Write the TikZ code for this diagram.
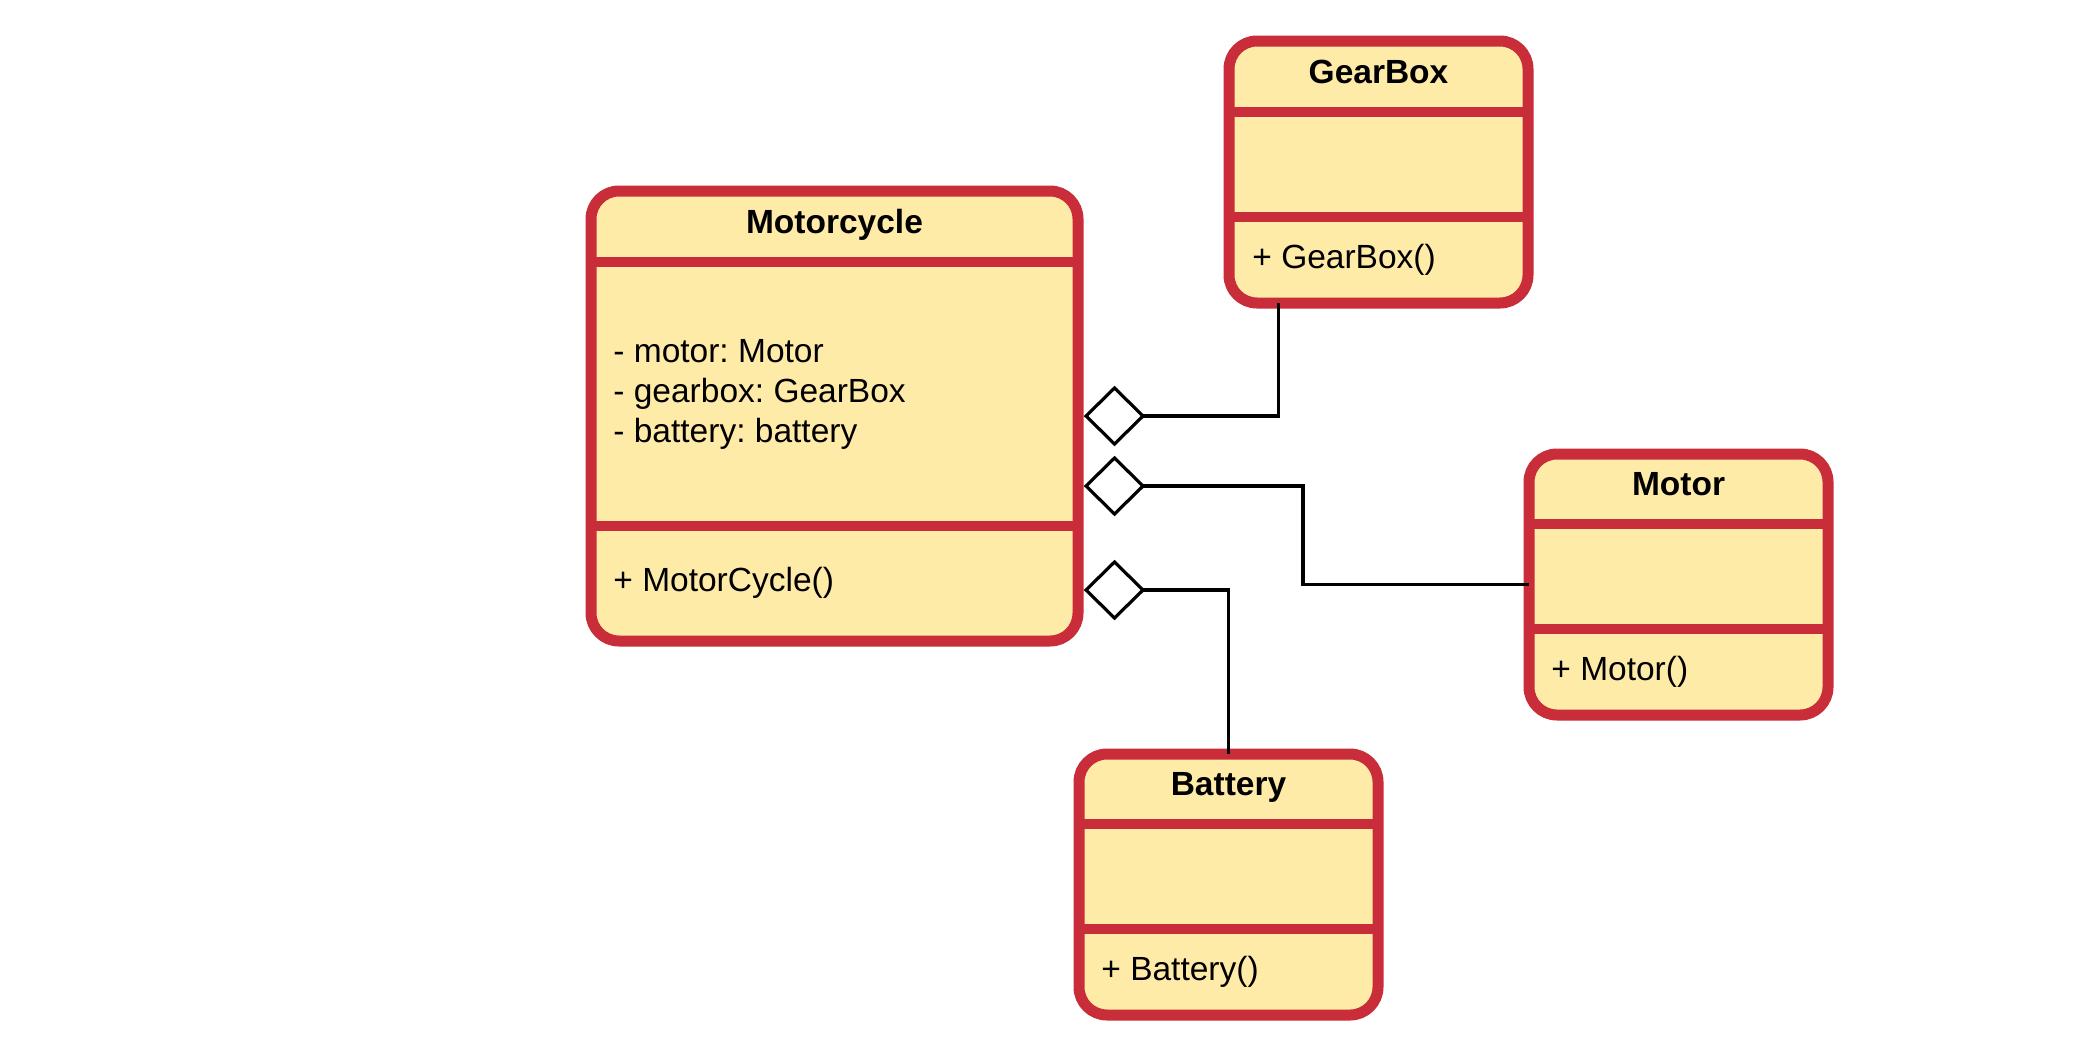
\documentclass[tikz,border=0pt]{standalone}
\usepackage{fontspec}
\setmainfont{Liberation Sans}
\frenchspacing
\usetikzlibrary{shapes.geometric}
\definecolor{umlred}{RGB}{201,45,57}
\definecolor{umlfill}{RGB}{255,235,168}
\tikzset{
  classbox/.style={draw=umlred, fill=umlfill, line width=5.5pt, rounded corners=14pt, inner sep=0pt, outer sep=0pt},
  divider/.style={draw=umlred, line width=5pt},
  titletext/.style={font=\fontsize{16.75}{20}\selectfont\bfseries\frenchspacing, anchor=base, inner sep=0pt},
  bodytext/.style={font=\fontsize{16.75}{20}\selectfont\frenchspacing, anchor=base west, inner sep=0pt},
  agg/.style={diamond, draw=black, fill=white, line width=1.6pt, minimum width=28.5pt, minimum height=28pt, inner sep=0pt, outer sep=0pt},
  conn/.style={draw=black, line width=1.6pt}
}
\begin{document}
\begin{tikzpicture}[x=0.5pt, y=-0.5pt]
\useasboundingbox[fill=white] (0,0) rectangle (2091,1050);

% Motorcycle
\node[classbox, minimum width=243.5pt, minimum height=225pt] (mc) at (834.5,416) {};
\draw[divider] ([yshift=-35.5pt]mc.north west) -- ([yshift=-35.5pt]mc.north east);
\draw[divider] ([yshift=-167.5pt]mc.north west) -- ([yshift=-167.5pt]mc.north east);
\node[titletext] (mct) at (834.5,233) {Motorcycle};
\node[bodytext] (mca1) at (613,362) {- motor: Motor};
\node[bodytext] (mca2) at (613,402) {- gearbox: GearBox};
\node[bodytext] (mca3) at (613,442) {- battery: battery};
\node[bodytext] (mcm) at (613,591) {+ MotorCycle()};

% GearBox
\node[classbox, minimum width=149.5pt, minimum height=131pt] (gb) at (1378.5,172) {};
\draw[divider] ([yshift=-35.5pt]gb.north west) -- ([yshift=-35.5pt]gb.north east);
\draw[divider] ([yshift=-88pt]gb.north west) -- ([yshift=-88pt]gb.north east);
\node[titletext] (gbt) at (1378.5,83) {GearBox};
\node[bodytext] (gbm) at (1252,268) {+ GearBox()};

% Motor
\node[classbox, minimum width=149.5pt, minimum height=130.5pt] (mt) at (1678.5,584.5) {};
\draw[divider] ([yshift=-35pt]mt.north west) -- ([yshift=-35pt]mt.north east);
\draw[divider] ([yshift=-87.5pt]mt.north west) -- ([yshift=-87.5pt]mt.north east);
\node[titletext] (mtt) at (1678.5,495) {Motor};
\node[bodytext] (mtm) at (1551,680) {+ Motor()};

% Battery
\node[classbox, minimum width=149.5pt, minimum height=130.5pt] (bt) at (1228.5,884.5) {};
\draw[divider] ([yshift=-35pt]bt.north west) -- ([yshift=-35pt]bt.north east);
\draw[divider] ([yshift=-87.5pt]bt.north west) -- ([yshift=-87.5pt]bt.north east);
\node[titletext] (btt) at (1228.5,795) {Battery};
\node[bodytext] (btm) at (1101,980) {+ Battery()};

% Aggregation diamonds
\node[agg] (d1) at (1114.5,416) {};
\node[agg] (d2) at (1114.5,486) {};
\node[agg] (d3) at (1114.5,590) {};

% Connectors
\draw[conn] (d1.east) -| ([xshift=-50pt]gb.south);
\coordinate (bend2) at (1303,486);
\draw[conn] (d2.east) -- (bend2) |- (mt.west);
\draw[conn] (d3.east) -| (bt.north);
\end{tikzpicture}
\end{document}
